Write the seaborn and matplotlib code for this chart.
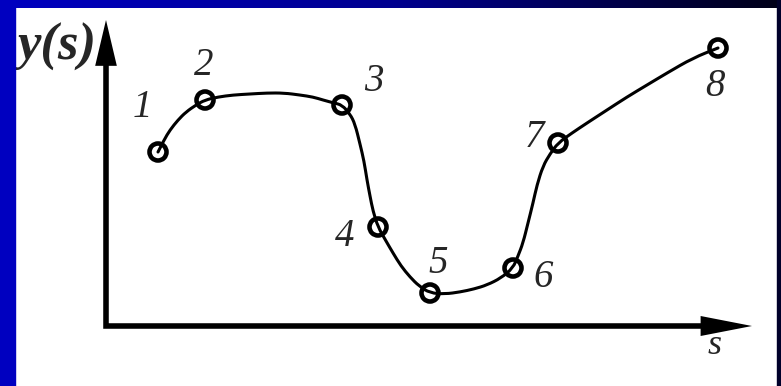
import numpy as np
import pandas as pd
import matplotlib.pyplot as plt
import seaborn as sns
from matplotlib.patches import Rectangle, PathPatch
from matplotlib.path import Path
from matplotlib.colors import LinearSegmentedColormap

# Key points on the curve (s, y)
point_labels = ["1", "2", "3", "4", "5", "6", "7", "8"]
point_s = [52, 99, 236, 272, 324, 407, 452, 612]
point_y = [174, 226, 221, 99, 33, 58, 183, 278]

# Traced curve through the points
curve_s = [52, 58, 64, 72, 80, 90, 99, 112, 127, 144, 161, 178, 194, 207, 217, 228, 236,
           244, 249, 254, 258, 261, 264, 267, 272, 280, 287, 295, 304, 313, 324,
           339, 354, 368, 381, 395, 407, 412, 417, 422, 427, 431, 437, 444, 452,
           466, 481, 501, 521, 541, 561, 587, 612]
curve_y = [174, 186, 196, 206, 214, 221, 226, 229, 231, 232, 233, 233, 231, 229, 226, 223, 221,
           212, 202, 182, 165, 146, 130, 115, 99, 85, 73, 60, 49, 40, 33,
           32, 34, 37, 41, 48, 58, 70, 83, 103, 123, 141, 160, 172, 183,
           193, 203, 216, 229, 241, 253, 268, 278]

# Label offsets (points) from each marker
label_dx = [-11, -1, 23, -24, 6, 22, -17, -2]
label_dy = [32, 25, 17, -7, 21, -7, 4, -28]

sns.set_style("white")
plt.rcParams['font.family'] = ['Liberation Serif', 'DejaVu Serif']

fig = plt.figure(figsize=(7.81, 3.86), dpi=100)
fig.patch.set_facecolor("white")
ax = fig.add_axes([0, 0, 1, 1])
ax.set_xlim(-106, 675)
ax.set_ylim(-60, 326)

# Axes: L-shaped line plus filled arrow heads
s_tip, y_tip = 646, 306
ax.plot([0, 0, s_tip - 40], [y_tip - 35, 0, 0], color="black", lw=4,
        solid_joinstyle="miter", solid_capstyle="butt")
ax.annotate("", xy=(0, y_tip), xytext=(0, y_tip - 60),
            arrowprops=dict(arrowstyle="-|>,head_length=3.3,head_width=0.78",
                            mutation_scale=10, lw=0, color="black",
                            shrinkA=0, shrinkB=0))
ax.annotate("", xy=(s_tip, 0), xytext=(s_tip - 70, 0),
            arrowprops=dict(arrowstyle="-|>,head_length=3.7,head_width=0.72",
                            mutation_scale=10, lw=0, color="black",
                            shrinkA=0, shrinkB=0))

# smooth the traced curve with quadratic segments
curve = pd.DataFrame({"s": curve_s, "y": curve_y})
xy = curve[["s", "y"]].to_numpy(dtype=float)
verts = [xy[0]]
codes = [Path.MOVETO]
for i in range(1, len(xy) - 1):
    verts += [xy[i], (xy[i] + xy[i + 1]) / 2]
    codes += [Path.CURVE3, Path.CURVE3]
verts.append(xy[-1])
codes.append(Path.LINETO)
ax.add_patch(PathPatch(Path(verts, codes), facecolor="none",
                       edgecolor="black", lw=2.2, capstyle="round"))

pts = pd.DataFrame({"s": point_s, "y": point_y})
sns.scatterplot(data=pts, x="s", y="y", marker="o", s=150,
                facecolors="none", edgecolor="black", linewidth=3.3,
                zorder=5, ax=ax)
ax.axis("off")

for lab, s, y, dx, dy in zip(point_labels, point_s, point_y, label_dx, label_dy):
    ax.annotate(lab, xy=(s, y), xytext=(dx, dy), textcoords="offset points",
                ha="center", va="center", fontsize=28, style="italic")

ax.text(-49, 279, "y(s)", fontsize=38, style="italic", fontweight="bold",
        ha="center", va="center")
ax.text(609, -19, "s", fontsize=26, style="italic", ha="center", va="center")

# Slide frame: blue strip left, gradient bar top, dark strip right
fig.patches.append(Rectangle((0, 0), 15 / 781, 1, transform=fig.transFigure,
                             color="#0000c0", zorder=10))
fig.patches.append(Rectangle((777 / 781, 0), 4 / 781, 1, transform=fig.transFigure,
                             color="#00002a", zorder=10))
bar = fig.add_axes([0, 1 - 8 / 386, 1, 8 / 386])
grad = np.linspace(0, 1, 256)[None, :]
cmap = LinearSegmentedColormap.from_list("frame", ["#0000c0", "#000090", "#000018"])
bar.imshow(grad, aspect="auto", cmap=cmap)
bar.axis("off")

fig.savefig("out.png", dpi=100)
